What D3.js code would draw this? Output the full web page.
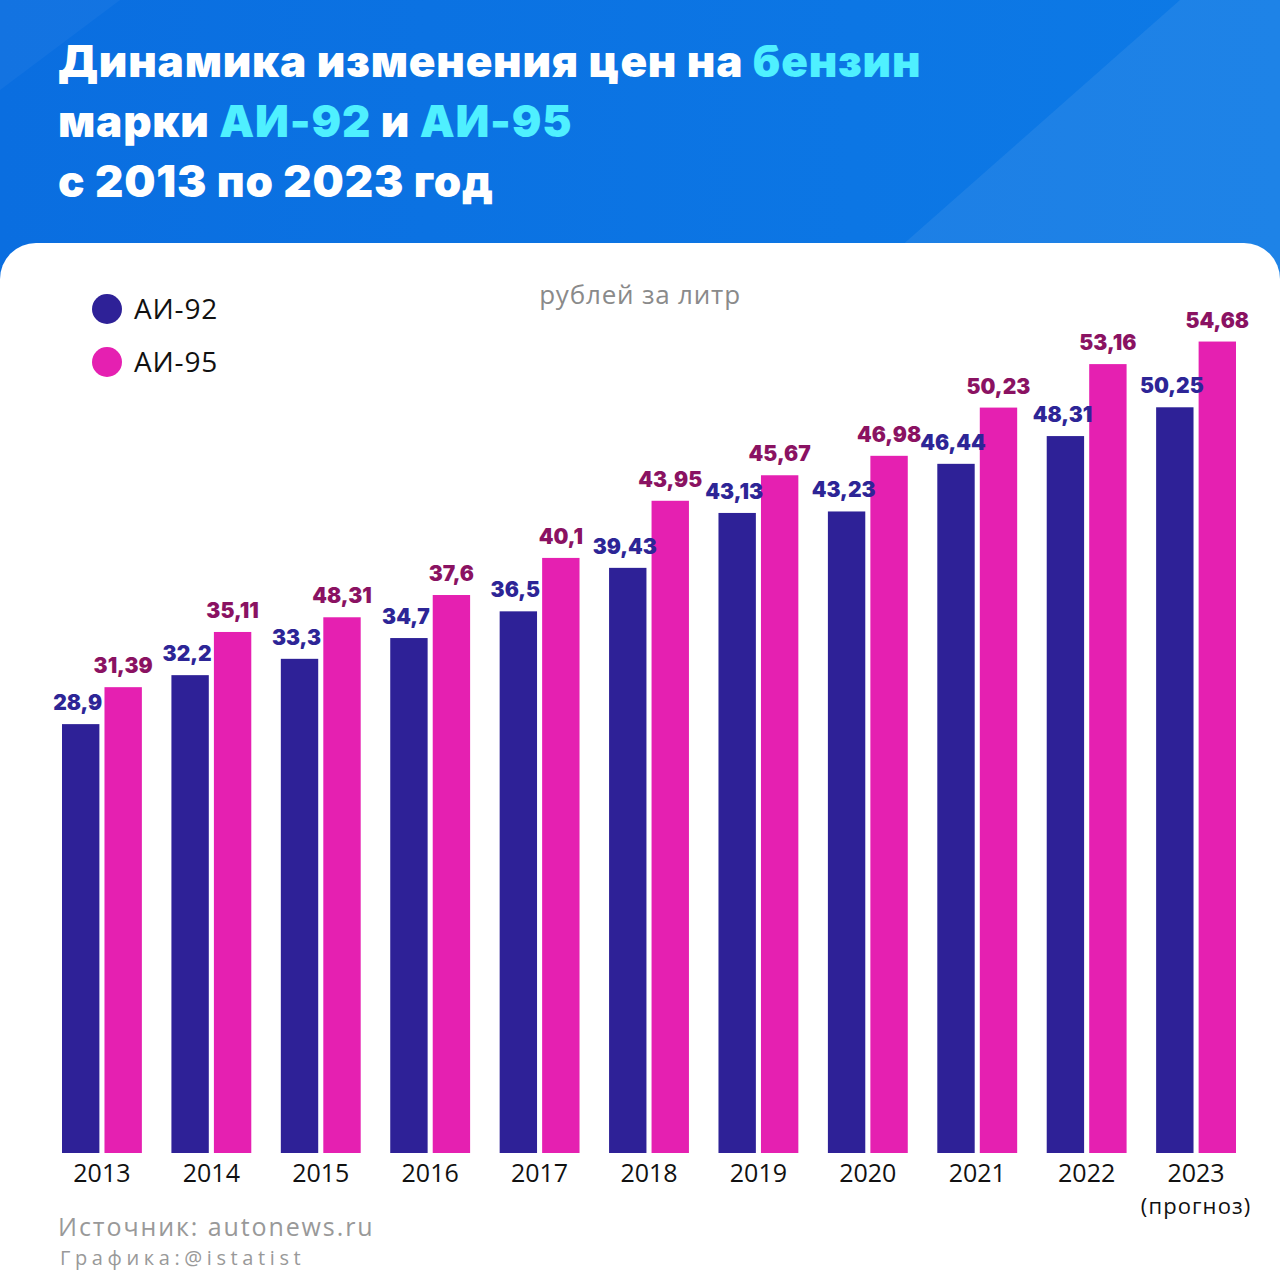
<!DOCTYPE html>
<html><head><meta charset="utf-8">
<script src="https://cdn.jsdelivr.net/npm/d3@7"></script>
<style>html,body{margin:0;padding:0;background:#fff}svg{display:block}</style>
</head><body>
<svg id="c" width="1280" height="1280"></svg>
<script>
const years = ["2013","2014","2015","2016","2017","2018","2019","2020","2021","2022","2023"];
const yearSub = ["","","","","","","","","","","(прогноз)"];
const ai92 = [28.9, 32.2, 33.3, 34.7, 36.5, 39.43, 43.13, 43.23, 46.44, 48.31, 50.25];
const ai95 = [31.39, 35.11, 36.1, 37.6, 40.1, 43.95, 45.67, 46.98, 50.23, 53.16, 54.68];
const ai92Labels = ["28,9","32,2","33,3","34,7","36,5","39,43","43,13","43,23","46,44","48,31","50,25"];
const ai95Labels = ["31,39","35,11","48,31","37,6","40,1","43,95","45,67","46,98","50,23","53,16","54,68"];
const seriesNames = ["АИ-92","АИ-95"];
const barColors = ["#2e2197","#e520b1"];
const labelColors = ["#2d2596","#8a1262"];

const svg = d3.select("#c");
const defs = svg.append("defs");
const g1 = defs.append("linearGradient").attr("id","hg").attr("x1","0").attr("y1","0").attr("x2","1").attr("y2","0");
g1.append("stop").attr("offset","0").attr("stop-color","#0a6ee0");
g1.append("stop").attr("offset","1").attr("stop-color","#0d7ae6");
svg.append("rect").attr("width",1280).attr("height",300).attr("fill","url(#hg)");
svg.append("path").attr("d","M840,300 L1180,0 L1280,0 L1280,300 Z").attr("fill","#ffffff").attr("opacity",0.07);
svg.append("path").attr("d","M0,0 L120,0 L0,90 Z").attr("fill","#ffffff").attr("opacity",0.04);
svg.append("rect").attr("x",0).attr("y",243).attr("width",1280).attr("height",1100).attr("rx",36).attr("fill","#ffffff");

const tf = "Inter, 'Open Sans', sans-serif";
const lf = "'Open Sans', sans-serif";
const lines = [
  [["Динамика изменения цен на ","#ffffff"],["бензин","#4ff0ff"]],
  [["марки ","#ffffff"],["АИ-92","#4ff0ff"],[" и ","#ffffff"],["АИ-95","#4ff0ff"]],
  [["с 2013 по 2023 год","#ffffff"]]
];
lines.forEach((ln,i)=>{
  const t = svg.append("text").attr("x",58).attr("y",77+i*60).attr("font-family",tf).attr("font-weight",900).attr("font-size",44).attr("letter-spacing","0.8");
  ln.forEach(p=>t.append("tspan").text(p[0]).attr("fill",p[1]));
});

svg.append("text").attr("x",640).attr("y",304).attr("text-anchor","middle").attr("font-family",lf).attr("font-size",26).attr("letter-spacing","0.8").attr("fill","#8a8a8a").text("рублей за литр");

seriesNames.forEach((n,i)=>{
  svg.append("circle").attr("cx",107).attr("cy",309+i*53).attr("r",15).attr("fill",barColors[i]);
  svg.append("text").attr("x",134).attr("y",319+i*53).attr("font-family",lf).attr("font-size",28).attr("letter-spacing","0.8").attr("fill","#111").text(n);
});

const x0 = d3.scaleBand().domain(years).range([62,1236]).paddingInner(0.27).paddingOuter(0);
const x1 = d3.scaleBand().domain([0,1]).range([0,x0.bandwidth()]).paddingInner(0.12);
const y = d3.scaleLinear().domain([0,60]).range([1153,1153-14.84*60]);

const data = years.map((yr,i)=>({yr, vals:[ai92[i],ai95[i]], labs:[ai92Labels[i],ai95Labels[i]]}));
const grp = svg.append("g").selectAll("g").data(data).join("g").attr("transform",d=>`translate(${x0(d.yr)},0)`);
grp.selectAll("rect").data(d=>d.vals.map((v,k)=>({v,k}))).join("rect")
  .attr("x",d=>x1(d.k)).attr("width",x1.bandwidth()).attr("y",d=>y(d.v)).attr("height",d=>y(0)-y(d.v)).attr("fill",d=>barColors[d.k]);
grp.selectAll("text.lab").data(d=>d.vals.map((v,k)=>({v,k,l:d.labs[k]}))).join("text").attr("class","lab")
  .attr("x",d=>x1(d.k)+x1.bandwidth()/2 - (d.k===0?3:0)).attr("y",d=>y(d.v)-14).attr("text-anchor","middle")
  .attr("font-family",tf).attr("font-weight",900).attr("font-size",21).attr("letter-spacing","0")
  .attr("fill",d=>labelColors[d.k]).text(d=>d.l);

const ax = svg.append("g").attr("transform","translate(0,1153)").call(d3.axisBottom(x0).tickSize(0).tickPadding(0));
ax.select(".domain").remove();
ax.selectAll("text").remove();
years.forEach((yr,i)=>{
  const cx = x0(yr)+x0.bandwidth()/2;
  svg.append("text").attr("x",cx).attr("y",1182).attr("text-anchor","middle").attr("font-family",lf).attr("font-size",25).attr("fill","#111").text(yr);
  if (yearSub[i]) svg.append("text").attr("x",cx).attr("y",1214).attr("text-anchor","middle").attr("font-family",lf).attr("font-size",22).attr("letter-spacing","1.1").attr("fill","#111").text(yearSub[i]);
});

svg.append("text").attr("x",58).attr("y",1236).attr("font-family",lf).attr("font-size",25).attr("letter-spacing","1.9").attr("fill","#999").text("Источник: autonews.ru");
svg.append("text").attr("x",60).attr("y",1265).attr("font-family",lf).attr("font-size",20).attr("letter-spacing","4.6").attr("fill","#999").text("Графика:@istatist");
</script>
</body></html>
